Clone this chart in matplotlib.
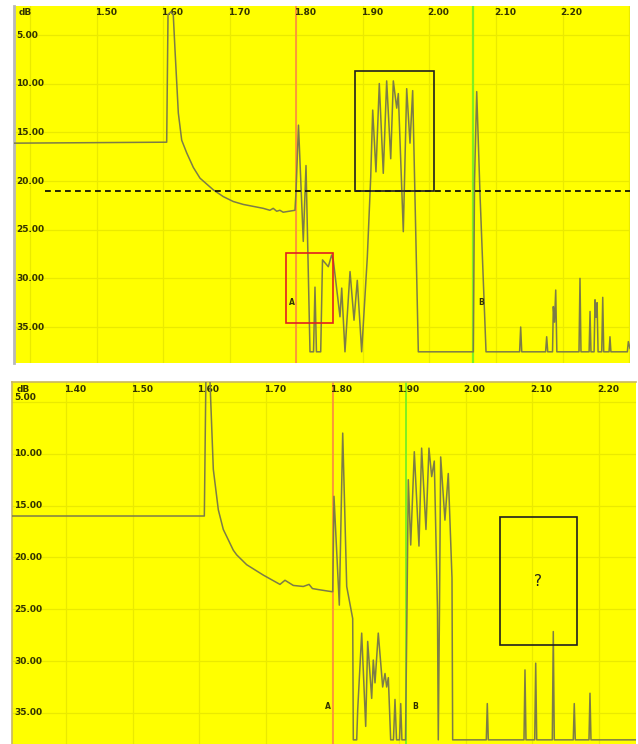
import numpy as np
import matplotlib
matplotlib.use("Agg")
import matplotlib.pyplot as plt
from matplotlib.patches import Rectangle
from matplotlib.transforms import blended_transform_factory

# ---- data (x in um, y in dB, dB grows downwards) ----
top_x = [1.3752, 1.6048, 1.6068, 1.6110, 1.6147, 1.6173, 1.6223, 1.6274, 1.6349, 1.6449,
         1.6549, 1.6749, 1.6900, 1.7050, 1.7200, 1.7350, 1.7500, 1.7600, 1.7650, 1.7702,
         1.7750, 1.7800, 1.7977,
         1.7992, 1.8030, 1.8102, 1.8143, 1.8203, 1.8256, 1.8278, 1.8300, 1.8364, 1.8391,
         1.8478, 1.8529, 1.8553, 1.8654, 1.8680, 1.8729, 1.8805, 1.8865, 1.8914, 1.8980,
         1.9065, 1.9116, 1.9146, 1.9195, 1.9245, 1.9305, 1.9356, 1.9417, 1.9456, 1.9507,
         1.9531, 1.9606, 1.9657, 1.9707, 1.9747, 1.9832, 2.0659, 2.0677, 2.0710, 2.0759,
         2.0850, 2.1355, 2.1371, 2.1387, 2.1746, 2.1762, 2.1778, 2.1850, 2.1862, 2.1880,
         2.1898, 2.1915, 2.2248, 2.2263, 2.2278, 2.2400, 2.2414, 2.2428, 2.2475, 2.2489,
         2.2505, 2.2520, 2.2535, 2.2590, 2.2605, 2.2620, 2.2700, 2.2714, 2.2728, 2.2975,
         2.2990, 2.3015]
top_db = [16.1, 16.0, 2.9, 2.6, 2.9, 6.5, 13.0, 15.8, 17.1, 18.6,
          19.7, 20.9, 21.6, 22.1, 22.4, 22.6, 22.8, 23.0, 22.8, 23.1,
          23.0, 23.2, 23.0,
          21.2, 14.25, 26.2, 18.4, 37.55, 37.55, 30.9, 37.55, 37.55, 28.1,
          28.8, 27.6, 28.1, 33.95, 31.0, 37.55, 29.3, 34.3, 30.2, 37.55,
          27.8, 19.6, 12.7, 19.05, 9.97, 19.2, 9.7, 17.7, 9.7, 12.5,
          11.0, 25.2, 10.5, 16.1, 10.7, 37.55, 37.55, 20.0, 10.8, 21.25,
          37.55, 37.55, 35.0, 37.55, 37.55, 36.0, 37.55, 37.55, 32.9, 34.5,
          31.2, 37.55, 37.55, 30.0, 37.55, 37.55, 33.4, 37.55, 37.55, 32.2,
          34.0, 32.5, 37.55, 37.55, 31.95, 37.55, 37.55, 36.0, 37.55, 37.55,
          36.5, 37.2]

bot_x = [1.3189, 1.6077, 1.6100, 1.6130, 1.6162, 1.6212, 1.6287, 1.6362, 1.6512, 1.6563,
         1.6713, 1.6962, 1.7213, 1.7288, 1.7413, 1.7563, 1.7650, 1.7700, 1.7788, 1.7989,
         1.8005, 1.8024, 1.8104, 1.8155, 1.8215, 1.8305, 1.8314, 1.8365, 1.8380, 1.8440,
         1.8500, 1.8530, 1.8590, 1.8614, 1.8640, 1.8689, 1.8755, 1.8790, 1.8815, 1.8840,
         1.8875, 1.8917, 1.8940, 1.8963, 1.9008, 1.9026, 1.9044, 1.9098, 1.9116, 1.9140,
         1.9176, 1.9230, 1.9300, 1.9340, 1.9405, 1.9450, 1.9491, 1.9530, 1.9578, 1.9590,
         1.9608, 1.9626, 1.9690, 1.9740, 1.9766, 1.9796, 1.9806, 2.0311, 2.0326, 2.0341,
         2.0877, 2.0892, 2.0907, 2.1038, 2.1053, 2.1068, 2.1302, 2.1317, 2.1332, 2.1617,
         2.1632, 2.1647, 2.1853, 2.1868, 2.1883, 2.2559]
bot_db = [16.0, 16.0, 3.0, 2.8, 3.0, 11.5, 15.4, 17.3, 19.3, 19.75,
          20.7, 21.7, 22.6, 22.2, 22.7, 22.8, 22.6, 23.0, 23.1, 23.3,
          23.3, 14.1, 24.6, 8.0, 22.8, 25.9, 37.6, 37.6, 34.7, 27.3,
          36.3, 28.1, 33.6, 29.9, 32.1, 27.3, 32.5, 31.2, 32.5, 31.6,
          37.6, 37.6, 33.7, 37.6, 37.6, 34.1, 37.6, 37.6, 27.3, 12.5,
          18.8, 9.8, 18.9, 9.45, 17.3, 9.45, 12.2, 10.7, 25.0, 37.6,
          25.0, 10.3, 16.4, 11.9, 16.6, 22.0, 37.6, 37.6, 34.1, 37.6,
          37.6, 30.85, 37.6, 37.6, 30.2, 37.6, 37.6, 27.15, 37.6, 37.6,
          34.1, 37.6, 37.6, 33.1, 37.6, 37.6]

top_xticks = [1.50, 1.60, 1.70, 1.80, 1.90, 2.00, 2.10, 2.20]
top_xgrid = [1.40, 1.50, 1.60, 1.70, 1.80, 1.90, 2.00, 2.10, 2.20, 2.30]
bot_xticks = [1.40, 1.50, 1.60, 1.70, 1.80, 1.90, 2.00, 2.10, 2.20]
db_ticks = [5, 10, 15, 20, 25, 30, 35]

YELLOW = "#ffff00"
GRID = "#eaea00"
TRACE = "#7c7c48"
LABEL = "#333300"
ORANGE = "#ff8a40"
GREEN = "#80f020"

fig = plt.figure(figsize=(6.38, 7.44), dpi=100)
fig.patch.set_facecolor("white")

ax1 = fig.add_axes([14 / 638, 1 - 363 / 744, 616 / 638, 357 / 744])
ax2 = fig.add_axes([12 / 638, 0.0, 624 / 638, 362 / 744])


def setup(ax, xlim, ylim, xgrid, xlabels, label_y, first_shift):
    ax.set_facecolor(YELLOW)
    ax.set_xlim(*xlim)
    ax.set_ylim(*ylim)
    ax.set_xticks([])
    ax.set_yticks([])
    for g in xgrid:
        ax.axvline(g, color=GRID, lw=0.9, zorder=0)
    for d in db_ticks:
        ax.axhline(d, color=GRID, lw=0.9, zorder=0)
    tx = blended_transform_factory(ax.transData, ax.transAxes)
    for v in xlabels:
        ax.text(v - 0.003, label_y, "%.2f" % v, transform=tx, ha="left", va="center",
                fontsize=6.5, fontweight="bold", color=LABEL)
    ty = blended_transform_factory(ax.transAxes, ax.transData)
    for i, d in enumerate(db_ticks):
        yy = d - first_shift if i == 0 else d
        ax.text(0.004, yy, "%.2f" % d, transform=ty, ha="left", va="center",
                fontsize=6.5, fontweight="bold", color=LABEL)
    ax.text(0.008, label_y, "dB", transform=ax.transAxes, ha="left", va="center",
            fontsize=6.5, fontweight="bold", color=LABEL)


# ---- top panel ----
setup(ax1, (1.3752, 2.3015), (38.7, 2.0), top_xgrid, top_xticks, 0.983, 0.0)
for s in ["top", "right", "bottom"]:
    ax1.spines[s].set_visible(False)
ax1.spines["left"].set_color("#b8b8b8")
ax1.spines["left"].set_linewidth(2)

ax1.axvline(1.7992, color=ORANGE, lw=1.2, zorder=1)
ax1.axvline(2.0659, color=GREEN, lw=1.6, zorder=1)
ax1.plot(top_x, top_db, color=TRACE, lw=1.1, zorder=3)
ax1.plot([1.4218, 2.3015], [21.03, 21.03], color="black", lw=1.2,
         dashes=(3.5, 2.5), zorder=4)
ax1.add_patch(Rectangle((1.888, 8.7), 2.0068 - 1.888, 21.03 - 8.7,
                        fill=False, ec="#202020", lw=1.2, zorder=5))
ax1.add_patch(Rectangle((1.7842, 27.4), 1.8549 - 1.7842, 34.6 - 27.4,
                        fill=False, ec="#e02020", lw=1.2, zorder=5))
ax1.text(1.7887, 32.44, "A", fontsize=5.5, fontweight="bold", color=LABEL,
         ha="left", va="center", zorder=6)
ax1.text(2.0729, 32.5, "B", fontsize=5.5, fontweight="bold", color=LABEL,
         ha="left", va="center", zorder=6)

# ---- bottom panel ----
setup(ax2, (1.3189, 2.2559), (38.0, 3.07), bot_xticks, bot_xticks, 0.978, 0.4)
for s in ["right", "bottom"]:
    ax2.spines[s].set_visible(False)
for s in ["top", "left"]:
    ax2.spines[s].set_color("#c8b860")
    ax2.spines[s].set_linewidth(1.2)

ax2.axvline(1.8005, color=ORANGE, lw=1.2, zorder=1)
ax2.axvline(1.9105, color=GREEN, lw=1.4, zorder=1)
ax2.plot(bot_x, bot_db, color=TRACE, lw=1.1, zorder=3)
ax2.add_patch(Rectangle((2.0517, 16.08), 2.1673 - 2.0517, 28.44 - 16.08,
                        fill=False, ec="#202020", lw=1.2, zorder=5))
ax2.text(2.1087, 22.36, "?", fontsize=11, color="#202020", ha="center",
         va="center", zorder=6)
ax2.text(1.7889, 34.42, "A", fontsize=5.5, fontweight="bold", color=LABEL,
         ha="left", va="center", zorder=6)
ax2.text(1.9195, 34.42, "B", fontsize=5.5, fontweight="bold", color=LABEL,
         ha="left", va="center", zorder=6)

fig.savefig("out.png", dpi=100, facecolor="white")
